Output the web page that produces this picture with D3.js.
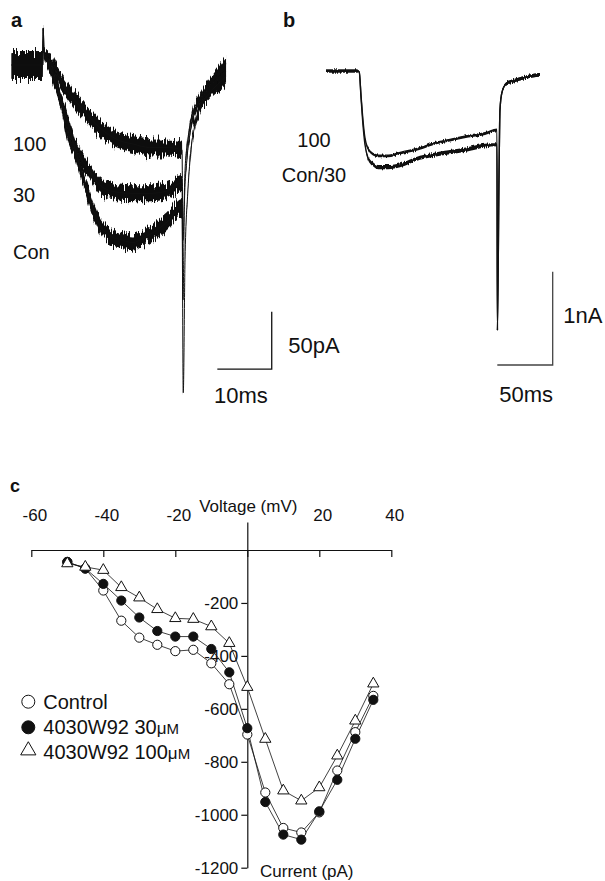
<!DOCTYPE html>
<html>
<head>
<meta charset="utf-8">
<script src="https://cdn.jsdelivr.net/npm/d3@7"></script>
<style>
  body { margin: 0; background: #fff; }
  svg { display: block; font-family: "Liberation Sans", Arial, Helvetica, sans-serif; }
</style>
</head>
<body>
<script>
// panel a : [time ms, current pA, noise half-width pA]
const traceA100 = [[0,0,12],[5.7,0,12],[5.8,32,0],[5.94,11,5],[7.04,4,6],[8.51,-9,6],[10.17,-22,7],[13.11,-39,7],[16.23,-55,7],[19.36,-65,7],[22.3,-69,7],[25.42,-72,7],[28.54,-72,7],[31.3,-74,7],[31.49,-153,0],[31.86,-92,2],[32.4,-65,3],[33.1,-45,3],[34.6,-29,4],[36.45,-17,5],[38.3,-6,6],[39.4,1,6]];
const traceA30 = [[0,0,12],[5.7,0,12],[5.8,32,0],[5.94,11,5],[7.04,3,6],[8.88,-28,6],[10.17,-57,7],[12.0,-76,7],[14.39,-93,7],[16.23,-105,7],[19.36,-111,7],[22.3,-112,7],[25.42,-112,7],[28.54,-110,7],[31.3,-103,7],[31.49,-205,0],[31.76,-118,2],[32.2,-83,3],[32.8,-59,3],[33.7,-41,4],[35.5,-25,5],[37.4,-15,6],[39.4,-6,6]];
const traceACon = [[0,0,12],[5.7,0,12],[5.8,32,0],[5.94,11,5],[7.04,-2,6],[10.17,-48,7],[12.55,-89,7],[14.39,-118,7],[16.23,-140,7],[18.07,-149,7],[20.46,-153,7],[22.3,-155,7],[24.14,-151,7],[26.71,-144,7],[28.54,-137,7],[31.3,-124,7],[31.54,-286,0],[31.86,-170,1],[32.4,-109,2],[32.96,-74,3],[33.7,-52,3],[34.6,-38,4],[36.45,-24,5],[38.3,-15,6],[39.4,-10,6]];

// panel b : [time ms, current nA, noise half-width nA]
const traceB100 = [[0,0,0.015],[28,0,0.015],[30,-0.01,0],[31.6,-0.26,0],[33.4,-0.53,0],[35.2,-0.72,0.01],[37.9,-0.83,0.015],[42.4,-0.89,0.015],[48.7,-0.91,0.015],[56,-0.91,0.015],[66.8,-0.88,0.015],[84.8,-0.83,0.015],[96.6,-0.78,0.015],[111.9,-0.74,0.015],[127.3,-0.70,0.015],[143.5,-0.67,0.015],[154.3,-0.63,0.015],[154.7,-2.78,0],[156.1,-1.17,0],[157,-0.42,0.005],[158.8,-0.23,0.01],[162.5,-0.14,0.018],[170.6,-0.10,0.018],[182.3,-0.06,0.018],[193.1,-0.04,0.018]];
const traceBCon = [[0,0,0.015],[28,0,0.015],[30,-0.01,0],[31.6,-0.28,0],[33.4,-0.58,0],[35.2,-0.79,0.01],[37.9,-0.93,0.022],[42.4,-1.0,0.022],[46.9,-1.03,0.022],[56,-1.03,0.022],[66.8,-1.01,0.022],[84.8,-0.93,0.022],[96.6,-0.90,0.022],[111.9,-0.87,0.022],[127.3,-0.84,0.022],[143.5,-0.80,0.02],[154.3,-0.79,0.015],[154.7,-2.78,0],[156.1,-1.17,0],[157,-0.42,0.005],[158.8,-0.23,0.01],[162.5,-0.14,0.018],[170.6,-0.10,0.018],[182.3,-0.06,0.018],[193.1,-0.04,0.018]];

// panel c : I-V curves
const volts = [-50,-45,-40,-35,-30,-25,-20,-15,-10,-5,0,5,10,15,20,25,30,35];
const control = [-45,-70,-153,-267,-331,-358,-382,-377,-428,-507,-697,-916,-1050,-1067,-991,-833,-688,-551];
const w30 = [-45,-70,-128,-191,-255,-306,-327,-327,-374,-462,-673,-952,-1075,-1094,-987,-868,-713,-566];
const w100 = [-51,-64,-76,-141,-180,-224,-258,-261,-289,-352,-518,-714,-909,-947,-897,-777,-645,-505];
const xTicks = [-60, -40, -20, 0, 20, 40];
const yTicks = [-200, -400, -600, -800, -1000, -1200];
const legendNames = ["Control", "4030W92 30", "4030W92 100"];

const W = 605, H = 881;
const svg = d3.select("body").append("svg").attr("width", W).attr("height", H);
svg.append("rect").attr("width", W).attr("height", H).attr("fill", "#fff");

// jagged edges for the recorded traces: vertical-only displacement
const defs = svg.append("defs");
function jagFilter(id, freq, scale) {
  const f = defs.append("filter").attr("id", id)
      .attr("x", "-5%").attr("y", "-20%").attr("width", "110%").attr("height", "140%");
  f.append("feTurbulence").attr("type", "fractalNoise").attr("baseFrequency", freq)
      .attr("numOctaves", 2).attr("seed", 4).attr("result", "n0");
  f.append("feColorMatrix").attr("in", "n0").attr("type", "matrix")
      .attr("values", "0 0 0 0 0.5  0 1 0 0 0  0 0 1 0 0  0 0 0 0 1").attr("result", "n");
  f.append("feDisplacementMap").attr("in", "SourceGraphic").attr("in2", "n")
      .attr("scale", scale).attr("xChannelSelector", "R").attr("yChannelSelector", "G");
}
jagFilter("jagA", "0.9 0.04", 18);
jagFilter("jagB", "0.9 0.1", 4);

function drawTraces(traces, x, y, filterId, lineW) {
  const g = svg.append("g");
  const area = d3.area().x(d => x(d[0])).y0(d => y(d[1] - d[2])).y1(d => y(d[1] + d[2]))
      .curve(d3.curveMonotoneX);
  const line = d3.line().x(d => x(d[0])).y(d => y(d[1])).curve(d3.curveMonotoneX);
  traces.forEach(tr => {
    g.append("path").attr("d", area(tr)).attr("fill", "#111")
        .attr("filter", `url(#${filterId})`);
    g.append("path").attr("d", line(tr)).attr("fill", "none")
        .attr("stroke", "#111").attr("stroke-width", lineW);
  });
}

function scaleBar(x, y, t0, dt, i0, di, color) {
  const p = d3.path();
  p.moveTo(x(t0), y(i0));
  p.lineTo(x(t0 + dt), y(i0));
  p.lineTo(x(t0 + dt), y(i0 + di));
  svg.append("path").attr("d", p.toString()).attr("fill", "none")
      .attr("stroke", color).attr("stroke-width", 1.3);
}

function label(txt, x, y, size, weight) {
  return svg.append("text").attr("x", x).attr("y", y).attr("font-size", size)
      .attr("font-weight", weight || "normal").attr("fill", "#111").text(txt);
}

// ---- panel a
const xa = d3.scaleLinear().domain([0, 10]).range([11.7, 66.1]);
const ya = d3.scaleLinear().domain([0, -50]).range([65, 122.3]);
drawTraces([traceA100, traceA30, traceACon], xa, ya, "jagA", 1);
scaleBar(xa, ya, 37.8, 10, -265.3, 50, "#111");
label("a", 11, 26.7, 20, "bold");
label("100", 13, 150.7, 20);
label("30", 13, 201.7, 20);
label("Con", 13, 259.3, 20);
label("50pA", 288.3, 353.3, 22);
label("10ms", 214, 403.3, 22);

// ---- panel b
const xb = d3.scaleLinear().domain([0, 50]).range([326, 381.4]);
const yb = d3.scaleLinear().domain([0, -1]).range([71, 164.3]);
drawTraces([traceB100, traceBCon], xb, yb, "jagB", 1.4);
scaleBar(xb, yb, 154.6, 50, -3.151, 1, "#444");
label("b", 283, 26.7, 20, "bold");
label("100", 297.3, 146.7, 20);
label("Con/30", 281.7, 181.7, 20);
label("1nA", 563.3, 322.7, 22);
label("50ms", 499.3, 401.7, 22);

// ---- panel c
const x = d3.scaleLinear().domain([-60, 40]).range([31.3, 391.3]);
const y = d3.scaleLinear().domain([0, -1200]).range([550, 867.7]);

const gx = svg.append("g").attr("transform", `translate(0,${y(0)})`)
    .call(d3.axisBottom(x).tickValues(xTicks).tickSize(7).tickSizeOuter(0)
      .tickFormat(d => d === 0 ? "" : String(d)));
gx.selectAll("text").attr("y", -29).attr("dy", 0).attr("dx", 3);

const yAx = y.copy().domain([106, -1200]).range([y(106), y(-1200)]);
const gy = svg.append("g").attr("transform", `translate(${x(0)},0)`)
    .call(d3.axisLeft(yAx).tickValues(yTicks).tickSize(6).tickPadding(3).tickSizeOuter(0)
      .tickFormat(d => String(d)));

[gx, gy].forEach(g => {
  g.selectAll("path, line").attr("stroke", "#111").attr("stroke-width", 1.2);
  g.selectAll("text").attr("font-size", 17).attr("fill", "#111")
      .attr("font-family", "\"Liberation Sans\", Arial, sans-serif");
});

svg.append("text").attr("x", 248.3).attr("y", 512.3).attr("text-anchor", "middle")
    .attr("font-size", 17).attr("fill", "#111").text("Voltage (mV)");
label("Current (pA)", 260, 877.3, 17);
label("c", 10, 491.7, 18, "bold");

const series = [
  {vals: control, kind: "open"},
  {vals: w30, kind: "filled"},
  {vals: w100, kind: "tri"}
];
const lineC = d3.line().x((d, i) => x(volts[i])).y(d => y(d));
series.forEach(s => {
  svg.append("path").attr("d", lineC(s.vals)).attr("fill", "none")
      .attr("stroke", "#111").attr("stroke-width", 0.8);
});

function marker(sel, kind, big) {
  if (kind === "tri") {
    sel.append("path")
        .attr("d", d3.symbol(d3.symbolTriangle, big ? 100 : 55)())
        .attr("fill", "#fff").attr("stroke", "#111").attr("stroke-width", 1);
  } else {
    sel.append("circle").attr("r", big ? 6.5 : 4.6)
        .attr("fill", kind === "filled" ? "#111" : "#fff")
        .attr("stroke", "#111").attr("stroke-width", 1);
  }
}

series.forEach(s => {
  svg.append("g").selectAll("g").data(s.vals).join("g")
      .attr("transform", (d, i) => `translate(${x(volts[i])},${y(d)})`)
      .each(function () { marker(d3.select(this), s.kind, false); });
});

// legend
const legY = [701.7, 727.3, 750.5];
const legTextY = [709, 734.3, 759];
series.forEach((s, i) => {
  const g = svg.append("g").attr("transform", `translate(28.3,${legY[i]})`);
  marker(g, s.kind, true);
  const t = svg.append("text").attr("x", 43.3).attr("y", legTextY[i])
      .attr("font-size", 20).attr("fill", "#111").text(legendNames[i]);
  if (i > 0) {
    t.append("tspan").attr("font-size", 17).text("\u03bc");
    t.append("tspan").attr("font-size", 15).text("M");
  }
});
</script>
</body>
</html>
